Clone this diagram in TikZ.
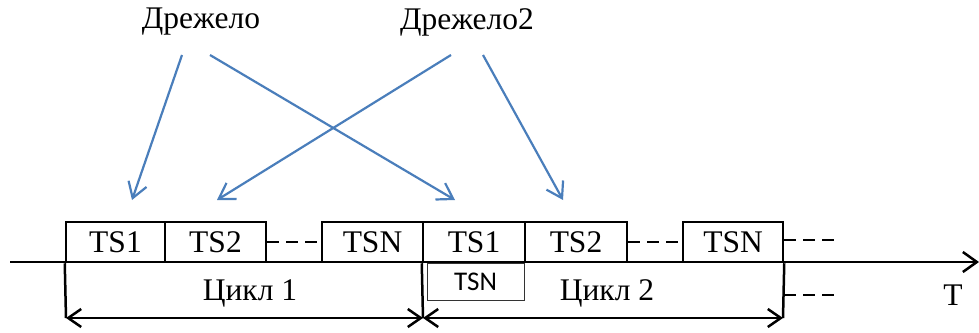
\documentclass[tikz,border=0pt]{standalone}
\usepackage{fontspec}
\setmainfont{Liberation Serif}
\newfontfamily\slotsans{Carlito}
\usetikzlibrary{arrows.meta}
\definecolor{linkblue}{RGB}{74,126,187}
\begin{document}
\begin{tikzpicture}[x=1pt,y=-1pt,
  bigtext/.style={font=\fontsize{31.5}{37}\selectfont},
  slot/.style={draw=black,line width=2.5pt,minimum height=40pt,inner sep=0pt,bigtext},
  subslot/.style={draw=black!80,line width=1pt,minimum width=97pt,minimum height=37pt,inner sep=0pt,font=\slotsans\fontsize{27}{32}\selectfont},
  gap/.style={line width=2.5pt,dash pattern=on 12pt off 7pt},
  span/.style={line width=2.5pt,{Straight Barb[length=13pt,width=18pt]}-{Straight Barb[length=13pt,width=18pt]}},
  tick/.style={line width=2.5pt},
  link/.style={linkblue,line width=2.2pt,-{Straight Barb[length=15pt,width=19pt]}},
]
\useasboundingbox (0,0) rectangle (979,332);

% time axis
\coordinate (axL) at (10,262);
\coordinate (axR) at (979,262);
\draw[line width=2.5pt,-{Straight Barb[length=14pt,width=20pt]}] (axL) -- (axR);
\node[bigtext] (T) at (953,295) {T};

% time slots of the two cycles
\node[slot,minimum width=99pt]  (a1) at (115.5,242) {TS1};
\node[slot,minimum width=101pt] (a2) at (215.5,242) {TS2};
\node[slot,minimum width=101pt] (aN) at (372.5,242) {TSN};
\node[slot,minimum width=102pt] (b1) at (474,242) {TS1};
\node[slot,minimum width=102pt] (b2) at (576,242) {TS2};
\node[slot,minimum width=100pt] (bN) at (733,242) {TSN};
\node[subslot] (bsub) at (475.5,281.5) {TSN};

\draw[gap] (a2.east) -- (aN.west);
\draw[gap] (b2.east) -- (bN.west);
\coordinate (moreTop) at (840,240);
\draw[gap] (bN.east |- moreTop) -- (moreTop);

% cycle boundaries
\coordinate (s0) at (66,318);
\coordinate (s1) at (423,318);
\coordinate (s2) at (783,318);
\draw[tick] (a1.south west) -- (s0);
\draw[tick] (b1.south west) -- (s1);
\draw[tick] (bN.south east) -- (s2);
\coordinate (moreBot) at (840,295);
\draw[gap] (bN.east |- moreBot) -- (moreBot);

\draw[span] (s0) -- (s1);
\draw[span] (s1) -- (s2);
\node[bigtext] (c1) at (250,293) {Цикл 1};
\node[bigtext] (c2) at (607,293) {Цикл 2};

% delay labels and their targets
\node[bigtext] (d1) at (201,22) {Дрежело};
\node[bigtext] (d2) at (467,22) {Дрежело2};
\coordinate (d1a) at (182,55);
\coordinate (d1b) at (210,55);
\coordinate (d2a) at (451,55);
\coordinate (d2b) at (483,55);
\coordinate (t1) at (132,200);
\coordinate (t2) at (455,200);
\coordinate (t3) at (217,200);
\coordinate (t4) at (563,200);
\draw[link] (d1a) -- (t1);
\draw[link] (d1b) -- (t2);
\draw[link] (d2a) -- (t3);
\draw[link] (d2b) -- (t4);
\end{tikzpicture}
\end{document}
